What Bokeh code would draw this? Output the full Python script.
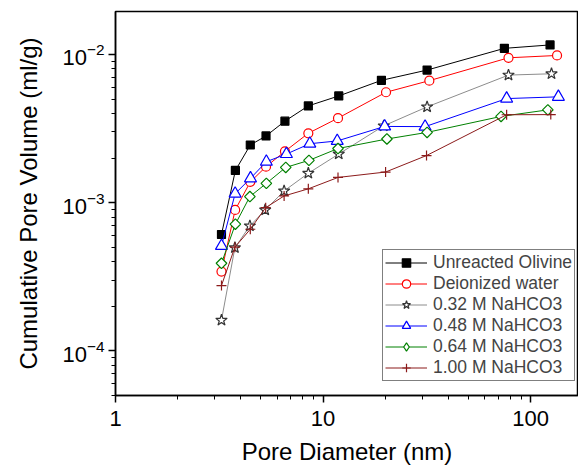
import numpy as np
from bokeh.plotting import figure
from bokeh.models import Range1d, CustomJSTickFormatter, Legend, LegendItem
from bokeh.embed import file_html
from bokeh.resources import INLINE

# Pore diameter (nm) and cumulative pore volume (ml/g) for each sample
x_olivine = [3.24, 3.78, 4.46, 5.31, 6.55, 8.49, 11.9, 19.1, 31.7, 74.7, 124]
y_olivine = [6.1e-4, 1.65e-3, 2.45e-3, 2.82e-3, 3.55e-3, 4.50e-3, 5.25e-3, 6.69e-3, 7.85e-3, 1.10e-2, 1.16e-2]

x_water = [3.24, 3.77, 4.46, 5.31, 6.55, 8.49, 11.8, 20.1, 32.5, 78.2, 134]
y_water = [3.43e-4, 8.93e-4, 1.38e-3, 1.75e-3, 2.22e-3, 2.94e-3, 3.72e-3, 5.56e-3, 6.66e-3, 9.5e-3, 9.85e-3]

x_032 = [3.24, 3.76, 4.44, 5.26, 6.49, 8.49, 11.9, 19.6, 31.7, 78.2, 126]
y_032 = [1.61e-4, 4.97e-4, 6.97e-4, 8.93e-4, 1.20e-3, 1.58e-3, 2.13e-3, 3.30e-3, 4.43e-3, 7.26e-3, 7.41e-3]

x_048 = [3.24, 3.77, 4.47, 5.33, 6.66, 8.63, 11.7, 19.8, 31.0, 76.6, 136]
y_048 = [5.11e-4, 1.15e-3, 1.46e-3, 1.89e-3, 2.13e-3, 2.50e-3, 2.61e-3, 3.27e-3, 3.26e-3, 5.04e-3, 5.18e-3]

x_064 = [3.24, 3.78, 4.44, 5.33, 6.61, 8.55, 11.8, 20.3, 31.7, 72.0, 121]
y_064 = [3.90e-4, 7.16e-4, 1.10e-3, 1.35e-3, 1.73e-3, 1.93e-3, 2.32e-3, 2.69e-3, 2.98e-3, 3.82e-3, 4.23e-3]

x_100 = [3.24, 3.76, 4.46, 5.29, 6.49, 8.49, 11.8, 20.0, 31.5, 76.6, 125]
y_100 = [2.76e-4, 5.01e-4, 6.62e-4, 9.26e-4, 1.11e-3, 1.24e-3, 1.48e-3, 1.61e-3, 2.08e-3, 3.92e-3, 3.93e-3]

labels = ["Unreacted Olivine", "Deionized water", "0.32 M NaHCO3",
          "0.48 M NaHCO3", "0.64 M NaHCO3", "1.00 M NaHCO3"]

FONT = "Liberation Sans"

p = figure(width=578, height=467, x_axis_type="log", y_axis_type="log",
           x_range=Range1d(1, 170), y_range=Range1d(5e-5, 0.0195),
           output_backend="svg", toolbar_location=None,
           min_border_left=115, min_border_right=0, min_border_top=11,
           min_border_bottom=70)

p.xgrid.visible = False
p.ygrid.visible = False
p.outline_line_color = "black"
p.outline_line_width = 1.5
p.background_fill_color = "white"
p.border_fill_color = "white"

series = [
    (x_olivine, y_olivine, "black", "black", "black", "square", 8, 0, "square"),
    (x_water, y_water, "#ff0000", "#ff0000", "white", "circle", 9, 0, "circle"),
    (x_032, y_032, "#8c8c8c", "#333333", "white", "star", 12, 0, "star"),
    (x_048, y_048, "#0000ff", "#0000ff", "white", "triangle", 12, 0, "triangle"),
    (x_064, y_064, "#008000", "#008000", "white", "square", 7.5, np.pi / 4, "diamond"),
    (x_100, y_100, "#8b1a1a", "#8b1a1a", "white", "cross", 10, 0, "cross"),
]

items = []
for (xs, ys, lc, mc, fc, mk, sz, ang, lmk), lab in zip(series, labels):
    r1 = p.line(xs, ys, line_color=lc, line_width=1)
    r2 = p.scatter(xs, ys, marker=mk, size=sz, angle=ang, line_color=mc,
                   fill_color=fc, line_width=1.2)
    if ang != 0:
        # legend-only marker (legend glyphs are not rotated); its single
        # point lies far outside the visible ranges
        r2 = p.scatter([xs[0] * 1e-6], [ys[0] * 1e-6], marker=lmk, size=sz,
                       line_color=mc, fill_color=fc, line_width=1.2)
    items.append(LegendItem(label=lab, renderers=[r1, r2]))

legend = Legend(items=items, location=(267, 14))
legend.glyph_width = 42
legend.glyph_height = 21
legend.label_height = 21
legend.spacing = 0
legend.padding = 2
legend.margin = 0
legend.label_standoff = 6
legend.label_text_font = FONT
legend.label_text_font_size = "17.5px"
legend.border_line_color = "black"
legend.border_line_width = 1
legend.background_fill_alpha = 1
p.add_layout(legend)

p.xaxis.formatter = CustomJSTickFormatter(code="return String(tick);")

for ax in (p.xaxis[0], p.yaxis[0]):
    ax.axis_line_width = 1.5
    ax.major_tick_line_width = 1.5
    ax.minor_tick_line_width = 1
    ax.major_tick_out = 7
    ax.major_tick_in = 0
    ax.minor_tick_out = 4
    ax.minor_tick_in = 0
    ax.major_label_text_font = FONT
    ax.major_label_text_font_size = "22px"
    ax.major_label_text_color = "black"
    ax.axis_label_text_font = FONT
    ax.axis_label_text_font_size = "24px"
    ax.axis_label_text_font_style = "normal"
    ax.axis_label_text_color = "black"

p.xaxis.axis_label = "Pore Diameter (nm)"
p.yaxis.axis_label = "Cumulative Pore Volume (ml/g)"
p.xaxis.major_label_standoff = 8
p.yaxis.major_label_standoff = 4
p.xaxis.axis_label_standoff = 9
p.yaxis.axis_label_standoff = 17

open("out.html", "w").write(file_html(p, INLINE))
